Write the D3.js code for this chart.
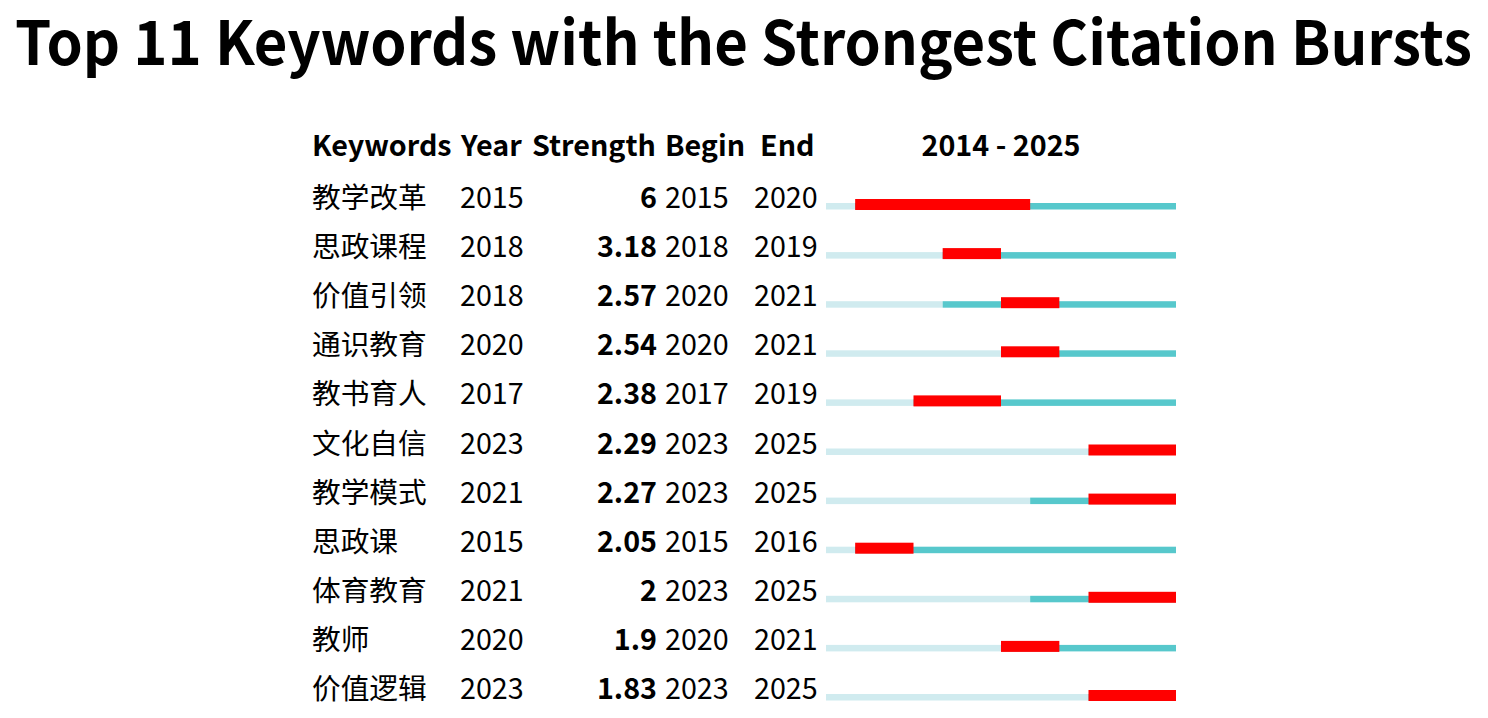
<!DOCTYPE html>
<html>
<head>
<meta charset="utf-8">
<script src="https://cdn.jsdelivr.net/npm/d3@7"></script>
<style>
html,body{margin:0;padding:0;background:#fff;}
svg{display:block;}
text{font-family:"Noto Sans CJK SC","Noto Sans",sans-serif;fill:#000;}
</style>
</head>
<body>
<svg id="chart" width="1488" height="718"></svg>
<script>
const keywords = ["教学改革","思政课程","价值引领","通识教育","教书育人","文化自信","教学模式","思政课","体育教育","教师","价值逻辑"];
const years = [2015,2018,2018,2020,2017,2023,2021,2015,2021,2020,2023];
const strengths = ["6","3.18","2.57","2.54","2.38","2.29","2.27","2.05","2","1.9","1.83"];
const begins = [2015,2018,2020,2020,2017,2023,2023,2015,2023,2020,2023];
const ends = [2020,2019,2021,2021,2019,2025,2025,2016,2025,2021,2025];
const headers = ["Keywords","Year","Strength","Begin","End"];
const rangeStart = 2014, rangeEnd = 2025;

const rows = keywords.map((k,i)=>({k, year:years[i], s:strengths[i], b:begins[i], e:ends[i]}));

const svg = d3.select("#chart");

svg.append("text").attr("x", 15).attr("y", 65)
  .attr("textLength", 1457).attr("lengthAdjust","spacingAndGlyphs")
  .style("font-size","61px").style("font-weight","700")
  .text("Top 11 Keywords with the Strongest Citation Bursts");

const y = d3.scalePoint().domain(d3.range(rows.length)).range([208, 699]);
const x = d3.scaleLinear().domain([rangeStart, rangeEnd+1]).range([826, 1176]);

const fs = "28.7px";
const col = {k:312, year:460, sRight:657, b:665, e:754};

// headers
const hy = 156;
const hdr = svg.append("g").style("font-size", fs).style("font-weight","700");
const hx = [312, 461, 532, 665, 760];
headers.forEach((h,i)=>{
  hdr.append("text").attr("x", hx[i]).attr("y", hy).text(h);
});
hdr.append("text").attr("x", (x.range()[0]+x.range()[1])/2).attr("y", hy)
  .attr("text-anchor","middle")
  .text(rangeStart + " - " + rangeEnd);

const g = svg.append("g").style("font-size", fs);
const row = g.selectAll("g.row").data(rows).join("g").attr("class","row")
  .attr("transform",(d,i)=>`translate(0,${y(i)})`);

row.append("text").attr("x", col.k).text(d=>d.k);
row.append("text").attr("x", col.year).text(d=>d.year);
row.append("text").attr("x", col.sRight).attr("text-anchor","end")
  .style("font-weight","700").text(d=>d.s);
row.append("text").attr("x", col.b).text(d=>d.b);
row.append("text").attr("x", col.e).text(d=>d.e);

// bars (relative to text baseline)
const thinTop = -5, thinH = 6.5, redTop = -9, redH = 11;
row.append("rect").attr("x", x(rangeStart)).attr("y", thinTop)
  .attr("width", d=>x(d.year)-x(rangeStart)).attr("height", thinH).attr("fill","#d0ebef");
row.append("rect").attr("x", d=>x(d.year)).attr("y", thinTop)
  .attr("width", d=>x(rangeEnd+1)-x(d.year)).attr("height", thinH).attr("fill","#57c8cc");
row.append("rect").attr("x", d=>x(d.b)).attr("y", redTop)
  .attr("width", d=>x(d.e+1)-x(d.b)).attr("height", redH).attr("fill","#ff0000");
</script>
</body>
</html>
